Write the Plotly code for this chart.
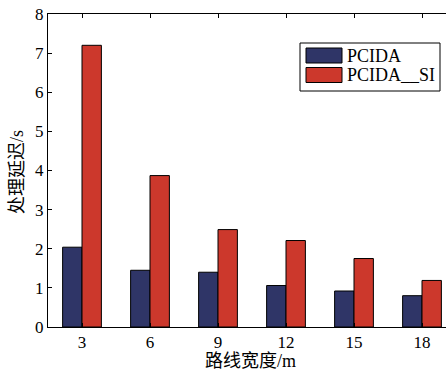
import plotly.graph_objects as go

# data
widths = ["3", "6", "9", "12", "15", "18"]
pcida = [2.04, 1.45, 1.40, 1.06, 0.92, 0.80]
pcida_si = [7.20, 3.87, 2.49, 2.21, 1.75, 1.19]
series_names = ["PCIDA", "PCIDA__SI"]
series_colors = ["#2f3567", "#cc382c"]
y_ticks = [0, 1, 2, 3, 4, 5, 6, 7, 8]
x_title = "路线宽度/m"
y_title = "处理延迟/s"

W, H = 446, 370
ML, MR, MT, MB = 48, 0, 14, 43

font_family = "'Liberation Serif', 'Times New Roman', 'Noto Sans CJK SC', serif"

fig = go.Figure()
for name, vals, col in zip(series_names, [pcida, pcida_si], series_colors):
    fig.add_trace(go.Bar(
        x=widths, y=vals, name=name,
        marker=dict(color=col, line=dict(color="black", width=1)),
        showlegend=False,
    ))

pw = W - ML - MR
ph = H - MT - MB

def px(x):
    return (x - ML) / pw

def py(y):
    return (H - MB - y) / ph

shapes = []
annotations = []
# custom legend box
shapes.append(dict(type="rect", xref="paper", yref="paper",
                   x0=px(300), x1=px(440), y0=py(43), y1=py(91),
                   line=dict(color="black", width=1), fillcolor="white", layer="above"))
for i, (name, col) in enumerate(zip(series_names, series_colors)):
    top = 48 + i * 19.5
    shapes.append(dict(type="rect", xref="paper", yref="paper",
                       x0=px(306), x1=px(342), y0=py(top), y1=py(top + 15),
                       line=dict(color="black", width=1), fillcolor=col, layer="above"))
    annotations.append(dict(xref="paper", yref="paper", x=px(345), y=py(top + 7.5),
                            text=name, showarrow=False, xanchor="left", yanchor="middle",
                            font=dict(size=18, color="black", family=font_family)))

# axis titles
annotations.append(dict(xref="paper", yref="paper", x=px(250), y=py(360), yshift=-1,
                        text=x_title, showarrow=False, xanchor="center", yanchor="middle",
                        font=dict(size=18, color="black", family=font_family)))
annotations.append(dict(xref="paper", yref="paper", x=px(17), y=py(172),
                        text=y_title, showarrow=False, xanchor="center", yanchor="middle",
                        textangle=-90,
                        font=dict(size=18, color="black", family=font_family)))

fig.update_layout(
    width=W, height=H,
    margin=dict(l=ML, r=MR, t=MT, b=MB, pad=0),
    paper_bgcolor="white", plot_bgcolor="white",
    barmode="group", bargap=0.43, bargroupgap=0,
    font=dict(family=font_family, size=18, color="black"),
    shapes=shapes, annotations=annotations,
    xaxis=dict(
        range=[-0.5, -0.5 + pw / 68.0],
        showline=True, linecolor="black", linewidth=1, mirror="ticks",
        ticks="inside", ticklen=4, tickcolor="black",
        showgrid=False, zeroline=False, automargin=False,
        tickfont=dict(size=17, family=font_family),
    ),
    yaxis=dict(
        range=[0, 8], tickvals=y_ticks,
        showline=True, linecolor="black", linewidth=1, mirror=False,
        ticks="inside", ticklen=4, tickcolor="black",
        showgrid=False, zeroline=False, automargin=False,
        tickfont=dict(size=17, family=font_family),
    ),
)

fig.write_html("out.html")
